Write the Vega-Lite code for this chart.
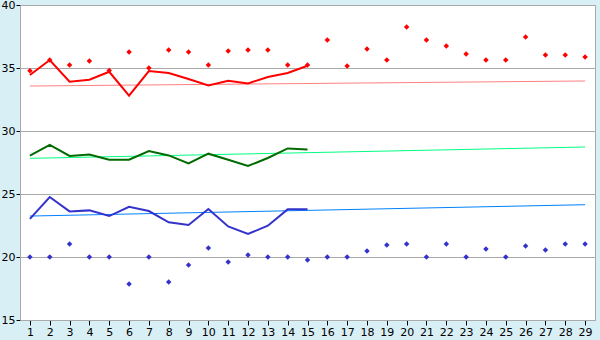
{
  "$schema": "https://vega.github.io/schema/vega-lite/v6.json",
  "width": 575,
  "height": 315,
  "autosize": {"type": "none"},
  "padding": {"left": 20, "top": 5, "right": 5, "bottom": 20},
  "background": "#d9eff6",
  "config": {
    "view": {"stroke": "#aaaaaa", "fill": "white", "strokeWidth": 1},
    "axis": {
      "labelFont": "DejaVu Sans",
      "labelFontSize": 11,
      "labelColor": "black",
      "tickColor": "black",
      "domainColor": "#aaaaaa",
      "title": null
    }
  },
  "datasets": {
    "lines": [
      {"day": 1, "red": 34.45, "green": 28.04, "blue": 23.02},
      {"day": 2, "red": 35.63, "green": 28.89, "blue": 24.76},
      {"day": 3, "red": 33.91, "green": 28.02, "blue": 23.62},
      {"day": 4, "red": 34.07, "green": 28.14, "blue": 23.7},
      {"day": 5, "red": 34.7, "green": 27.72, "blue": 23.25},
      {"day": 6, "red": 32.8, "green": 27.72, "blue": 23.99},
      {"day": 7, "red": 34.76, "green": 28.41, "blue": 23.65},
      {"day": 8, "red": 34.6, "green": 28.06, "blue": 22.75},
      {"day": 9, "red": 34.13, "green": 27.43, "blue": 22.54},
      {"day": 10, "red": 33.62, "green": 28.2, "blue": 23.81},
      {"day": 11, "red": 33.99, "green": 27.72, "blue": 22.43},
      {"day": 12, "red": 33.78, "green": 27.22, "blue": 21.83},
      {"day": 13, "red": 34.29, "green": 27.86, "blue": 22.48},
      {"day": 14, "red": 34.6, "green": 28.62, "blue": 23.78},
      {"day": 15, "red": 35.18, "green": 28.54, "blue": 23.78}
    ],
    "points": [
      {"day": 1, "red": 34.79, "blue": 20.0},
      {"day": 2, "red": 35.63, "blue": 20.0},
      {"day": 3, "red": 35.24, "blue": 21.03},
      {"day": 4, "red": 35.56, "blue": 20.0},
      {"day": 5, "red": 34.81, "blue": 20.0},
      {"day": 6, "red": 36.27, "blue": 17.86},
      {"day": 7, "red": 35.0, "blue": 20.0},
      {"day": 8, "red": 36.43, "blue": 18.01},
      {"day": 9, "red": 36.27, "blue": 19.37},
      {"day": 10, "red": 35.24, "blue": 20.71},
      {"day": 11, "red": 36.35, "blue": 19.6},
      {"day": 12, "red": 36.43, "blue": 20.16},
      {"day": 13, "red": 36.43, "blue": 20.0},
      {"day": 14, "red": 35.24, "blue": 20.0},
      {"day": 15, "red": 35.24, "blue": 19.76},
      {"day": 16, "red": 37.22, "blue": 20.0},
      {"day": 17, "red": 35.16, "blue": 20.0},
      {"day": 18, "red": 36.5, "blue": 20.48},
      {"day": 19, "red": 35.63, "blue": 20.95},
      {"day": 20, "red": 38.25, "blue": 21.03},
      {"day": 21, "red": 37.22, "blue": 20.0},
      {"day": 22, "red": 36.75, "blue": 21.03},
      {"day": 23, "red": 36.11, "blue": 20.0},
      {"day": 24, "red": 35.63, "blue": 20.63},
      {"day": 25, "red": 35.63, "blue": 20.0},
      {"day": 26, "red": 37.46, "blue": 20.87},
      {"day": 27, "red": 36.03, "blue": 20.56},
      {"day": 28, "red": 36.03, "blue": 21.03},
      {"day": 29, "red": 35.87, "blue": 21.03}
    ],
    "trends": [
      {"day": 1, "red": 33.57, "green": 27.83, "blue": 23.25},
      {"day": 29, "red": 33.97, "green": 28.73, "blue": 24.15}
    ]
  },
  "encoding": {
    "x": {
      "field": "day",
      "type": "quantitative",
      "scale": {"domain": [0.5, 29.5], "nice": false, "zero": false},
      "axis": {
        "values": [1,2,3,4,5,6,7,8,9,10,11,12,13,14,15,16,17,18,19,20,21,22,23,24,25,26,27,28,29],
        "grid": false,
        "tickSize": 5,
        "labelPadding": 1,
        "labelFlush": false,
        "labelOverlap": false
      }
    }
  },
  "layer": [
    {
      "data": {"name": "trends"},
      "mark": {"type": "line", "color": "#ff8080", "strokeWidth": 1},
      "encoding": {
        "y": {
          "field": "red",
          "type": "quantitative",
          "scale": {"domain": [15, 40], "nice": false, "zero": false},
          "axis": {
            "values": [15, 20, 25, 30, 35, 40],
            "grid": true,
            "gridColor": "#aaaaaa",
            "tickSize": 4,
            "labelPadding": 1,
            "labelFlush": false
          }
        }
      }
    },
    {
      "data": {"name": "trends"},
      "mark": {"type": "line", "color": "#00ff80", "strokeWidth": 1},
      "encoding": {"y": {"field": "green", "type": "quantitative"}}
    },
    {
      "data": {"name": "trends"},
      "mark": {"type": "line", "color": "#0080ff", "strokeWidth": 1},
      "encoding": {"y": {"field": "blue", "type": "quantitative"}}
    },
    {
      "data": {"name": "lines"},
      "mark": {"type": "line", "color": "#ff0000", "strokeWidth": 2},
      "encoding": {"y": {"field": "red", "type": "quantitative"}}
    },
    {
      "data": {"name": "lines"},
      "mark": {"type": "line", "color": "#006b00", "strokeWidth": 2},
      "encoding": {"y": {"field": "green", "type": "quantitative"}}
    },
    {
      "data": {"name": "lines"},
      "mark": {"type": "line", "color": "#3333cc", "strokeWidth": 2},
      "encoding": {"y": {"field": "blue", "type": "quantitative"}}
    },
    {
      "data": {"name": "points"},
      "mark": {"type": "point", "shape": "diamond", "filled": true, "color": "#ff0000", "size": 30, "opacity": 1},
      "encoding": {"y": {"field": "red", "type": "quantitative"}}
    },
    {
      "data": {"name": "points"},
      "mark": {"type": "point", "shape": "diamond", "filled": true, "color": "#3333cc", "size": 30, "opacity": 1},
      "encoding": {"y": {"field": "blue", "type": "quantitative"}}
    }
  ]
}
